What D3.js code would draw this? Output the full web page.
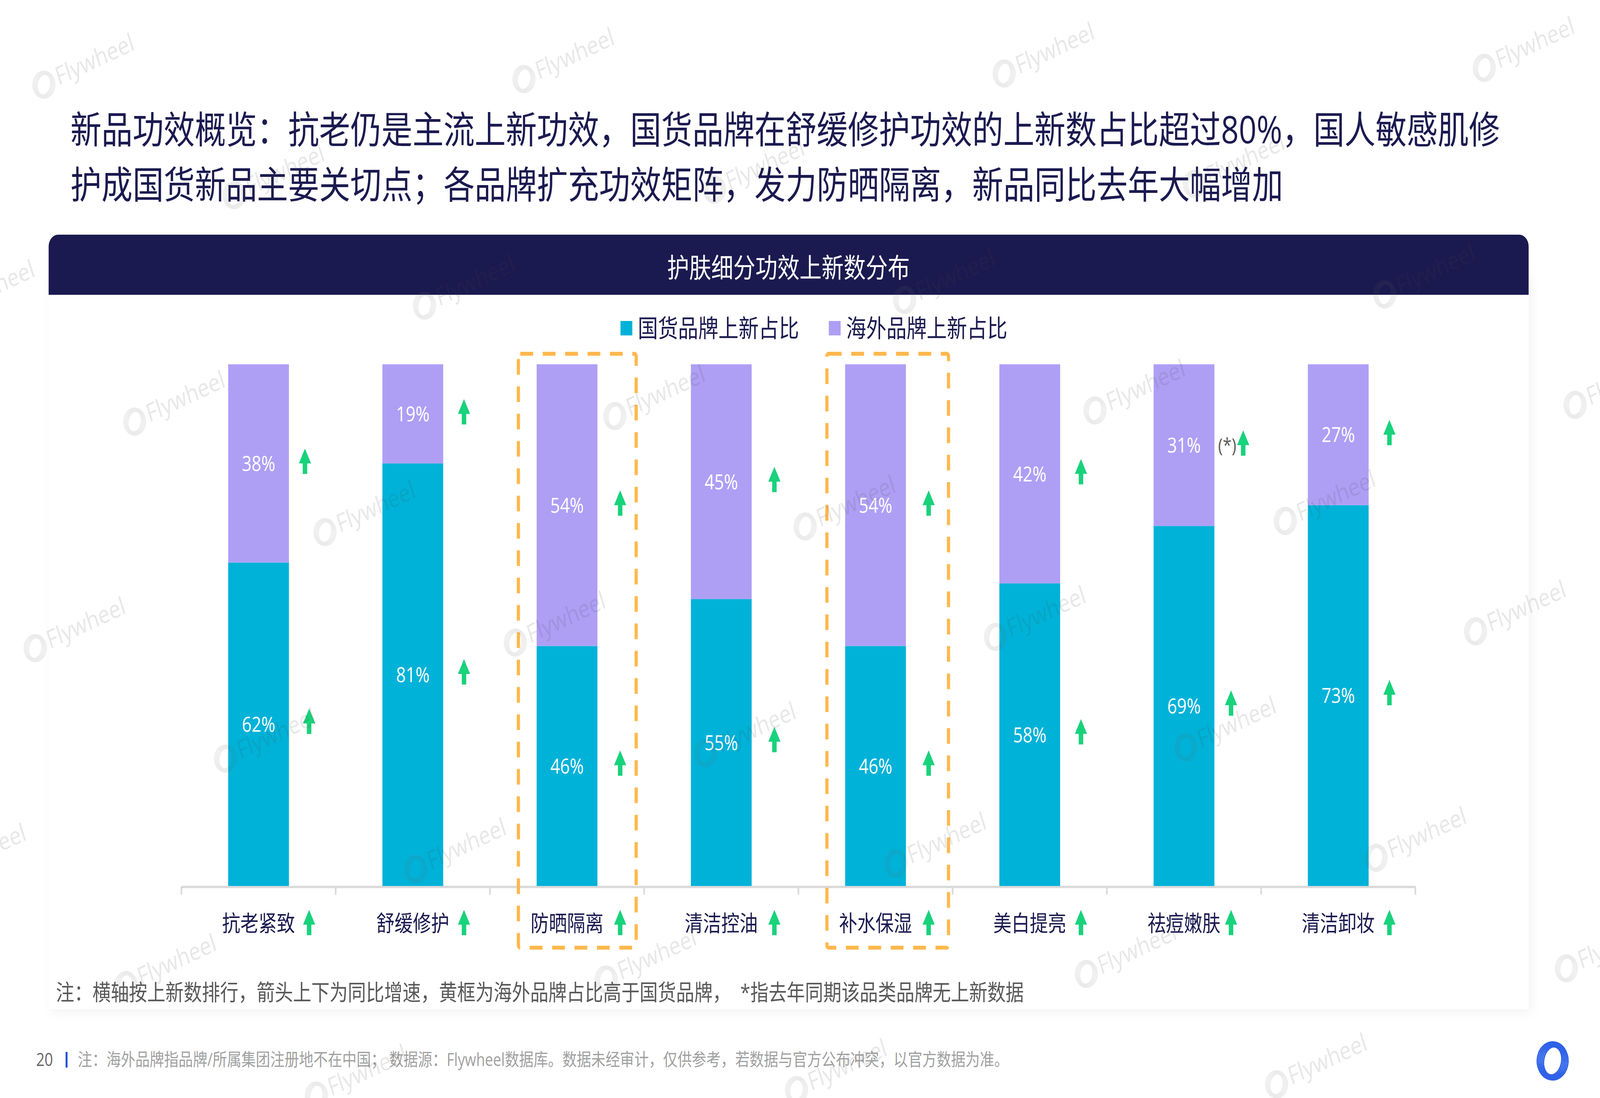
<!DOCTYPE html>
<html>
<head>
<meta charset="utf-8">
<script src="https://cdn.jsdelivr.net/npm/d3@7"></script>
<style>
  html, body { margin: 0; background: #fff; overflow: hidden; }
  text { font-family: "Open Sans", "Noto Sans CJK SC", sans-serif; }
</style>
</head>
<body>
<div id="chart"></div>
<script>
var categories = ['抗老紧致', '舒缓修护', '防晒隔离', '清洁控油', '补水保湿', '美白提亮', '祛痘嫩肤', '清洁卸妆'];
var domesticShare = [62, 81, 46, 55, 46, 58, 69, 73];
var overseasShare = [38, 19, 54, 45, 54, 42, 31, 27];
var highlighted = ['防晒隔离', '补水保湿'];
var noLastYear = ['祛痘嫩肤'];
var seriesNames = ['国货品牌上新占比', '海外品牌上新占比'];

var titleLines = [
  '新品功效概览：抗老仍是主流上新功效，国货品牌在舒缓修护功效的上新数占比超过80%，国人敏感肌修',
  '护成国货新品主要关切点；各品牌扩充功效矩阵，发力防晒隔离，新品同比去年大幅增加'
];
var panelTitle = '护肤细分功效上新数分布';
var noteText = '注：横轴按上新数排行，箭头上下为同比增速，黄框为海外品牌占比高于国货品牌，  *指去年同期该品类品牌无上新数据';
var footerText = '注：海外品牌指品牌/所属集团注册地不在中国； 数据源：Flywheel数据库。数据未经审计，仅供参考，若数据与官方公布冲突，以官方数据为准。';
var pageNumber = '20';

var navy = '#1b1a50', teal = '#00b2d8', purple = '#ae9ff5', green = '#19d27c', orange = '#ffb84d';

// the slide is laid out in 5000x2812 units and stretched to fill the window
var svg = d3.select('#chart').append('svg')
    .attr('viewBox', '0 0 5000 2812')
    .attr('preserveAspectRatio', 'none')
    .style('width', '100vw')
    .style('height', '100vh')
    .style('display', 'block');

var defs = svg.append('defs');
var shadow = defs.append('filter').attr('id', 'card-shadow')
    .attr('x', '-3%').attr('y', '-3%').attr('width', '106%').attr('height', '106%');
shadow.append('feDropShadow')
    .attr('dx', 8).attr('dy', 8).attr('stdDeviation', 14)
    .attr('flood-color', '#000').attr('flood-opacity', 0.05);

// title
svg.append('g').selectAll('text')
    .data(titleLines).enter()
  .append('text')
    .attr('x', 220)
    .attr('y', (d, i) => 367 + i * 141)
    .attr('font-size', 97.2)
    .attr('fill', navy)
    .text(String);

// card + header
svg.append('rect')
    .attr('x', 152).attr('y', 700).attr('width', 4625).attr('height', 1885)
    .attr('fill', '#fff')
    .attr('filter', 'url(#card-shadow)');

var headerPath = d3.path();
headerPath.moveTo(152, 755);
headerPath.lineTo(152, 631);
headerPath.arcTo(152, 601, 182, 601, 30);
headerPath.lineTo(4747, 601);
headerPath.arcTo(4777, 601, 4777, 631, 30);
headerPath.lineTo(4777, 755);
headerPath.closePath();
svg.append('path').attr('d', headerPath.toString()).attr('fill', navy);

svg.append('text')
    .attr('x', 2464).attr('y', 711)
    .attr('text-anchor', 'middle')
    .attr('font-size', 69)
    .attr('fill', '#fff')
    .text(panelTitle);

// scales
var x = d3.scaleBand()
    .domain(categories)
    .range([567, 4423])
    .paddingInner(0.606)
    .paddingOuter(0.303);
var y = d3.scaleLinear()
    .domain([0, 100])
    .range([2269, 933]);
var color = d3.scaleOrdinal().domain(seriesNames).range([teal, purple]);

var rows = categories.map((c, i) => ({
  category: c,
  [seriesNames[0]]: domesticShare[i],
  [seriesNames[1]]: overseasShare[i]
}));
var stacked = d3.stack().keys(seriesNames)(rows);

// axis
var axisG = svg.append('g')
    .attr('transform', 'translate(0,2271)')
    .call(d3.axisBottom(x).tickSize(0).tickPadding(80));
axisG.select('.domain').attr('stroke', '#d9d9d9').attr('stroke-width', 6);
axisG.selectAll('.tick text')
    .attr('font-size', 57)
    .attr('font-family', '"Noto Sans CJK SC"')
    .attr('fill', navy)
    .attr('dy', '0.6em');
var step = x.step();
axisG.selectAll('.sep')
    .data(d3.range(categories.length + 1)).enter()
  .append('line')
    .attr('class', 'sep')
    .attr('x1', d => x.range()[0] + d * step)
    .attr('x2', d => x.range()[0] + d * step)
    .attr('y1', 0).attr('y2', 20)
    .attr('stroke', '#d9d9d9').attr('stroke-width', 5);

// bars
var layers = svg.append('g').selectAll('g')
    .data(stacked).enter()
  .append('g')
    .attr('fill', d => color(d.key));

layers.selectAll('rect')
    .data(d => d).enter()
  .append('rect')
    .attr('x', d => x(d.data.category))
    .attr('width', x.bandwidth())
    .attr('y', d => y(d[1]))
    .attr('height', d => y(d[0]) - y(d[1]));

layers.selectAll('text')
    .data(d => d).enter()
  .append('text')
    .attr('x', d => x(d.data.category) + x.bandwidth() / 2)
    .attr('y', d => (y(d[0]) + y(d[1])) / 2)
    .attr('dy', '.36em')
    .attr('text-anchor', 'middle')
    .attr('font-size', 53)
    .attr('fill', '#fff')
    .text(d => (d[1] - d[0]) + '%');

// growth arrows, all pointing up in this picture
var arrowLine = d3.line();
var arrowShape = [[-19, 8], [0, -30], [19, 8], [7, 8], [7, 35], [-7, 35], [-7, 8]];
var arrowShift = [158, 160, 166, 166, 166, 160, 147, 160];

function drawArrow(cx, cy) {
  svg.append('path')
      .attr('d', arrowLine(arrowShape) + 'Z')
      .attr('transform', 'translate(' + cx + ',' + cy + ')')
      .attr('fill', green);
}

categories.forEach(function (c, i) {
  var mid = x(c) + x.bandwidth() / 2,
      lowY = (y(0) + y(domesticShare[i])) / 2,
      highY = (y(domesticShare[i]) + y(100)) / 2,
      highShift = arrowShift[i];
  if (i === 0) highShift = 145;
  if (noLastYear.indexOf(c) >= 0) highShift = 185;
  drawArrow(mid + arrowShift[i], lowY - 10);
  drawArrow(mid + highShift, highY - 8);
  drawArrow(mid + arrowShift[i], 2360);
  if (noLastYear.indexOf(c) >= 0) {
    svg.append('text')
        .attr('x', mid + 135)
        .attr('y', highY + 18)
        .attr('text-anchor', 'middle')
        .attr('font-size', 50)
        .attr('fill', '#595959')
        .text('(*)');
  }
});

// yellow boxes
svg.append('g').selectAll('rect')
    .data(highlighted).enter()
  .append('rect')
    .attr('x', d => x(d) - 57)
    .attr('y', 906)
    .attr('width', (d, i) => i ? 380 : 368)
    .attr('height', 1521)
    .attr('rx', 6)
    .attr('fill', 'none')
    .attr('stroke', orange)
    .attr('stroke-width', 10)
    .attr('stroke-dasharray', '40 30');

// legend
var legend = svg.append('g').selectAll('g')
    .data(seriesNames).enter()
  .append('g')
    .attr('transform', (d, i) => 'translate(' + (1939 + i * 651) + ',840)');
legend.append('rect')
    .attr('y', -18).attr('width', 37).attr('height', 37)
    .attr('fill', d => color(d));
legend.append('text')
    .attr('x', 54).attr('y', 23)
    .attr('font-size', 63)
    .attr('fill', navy)
    .text(String);

// notes
svg.append('text')
    .attr('x', 175).attr('y', 2562)
    .attr('font-size', 57)
    .attr('fill', '#595959')
    .attr('xml:space', 'preserve')
    .text(noteText);

svg.append('text')
    .attr('x', 113).attr('y', 2730)
    .attr('font-size', 46)
    .attr('fill', '#666')
    .text(pageNumber);
svg.append('line')
    .attr('x1', 208).attr('x2', 208).attr('y1', 2694).attr('y2', 2734)
    .attr('stroke', '#1f4fd8').attr('stroke-width', 6);
svg.append('text')
    .attr('x', 243).attr('y', 2730)
    .attr('font-size', 45)
    .attr('fill', '#a0a0a0')
    .text(footerText);

// ring logo, stripes of concentric ellipses
function ring(g, scale, stroke, sw) {
  [0, 1, 2, 3, 4].forEach(function (k) {
    g.append('ellipse')
        .attr('rx', (28 + k * 5) * scale)
        .attr('ry', (37 + k * 2.8) * scale)
        .attr('fill', 'none')
        .attr('stroke', stroke)
        .attr('stroke-width', sw)
        .attr('transform', 'rotate(15)');
  });
}
ring(svg.append('g').attr('transform', 'translate(4852,2717)'), 1, '#2f62e8', 4.5);

// watermark lattice, drawn over everything
var wm = svg.append('g').attr('class', 'watermark');
d3.range(-3, 14).forEach(function (r) {
  d3.range(-3, 6).forEach(function (c) {
    var px = (43 + c * 470.5 + r * 186.5) * 3.189,
        py = (68 - c * 4.5 + r * 88.7) * 3.189;
    if (px < -300 || px > 5000 || py < 40 || py > 2860) return;
    var g = wm.append('g')
        .attr('transform', 'translate(' + px + ',' + py + ')')
        .attr('opacity', 0.13);
    ring(g, 0.72, '#666', 2.6);
    g.append('text')
        .attr('x', 42).attr('y', 18)
        .attr('transform', 'rotate(-21)')
        .attr('font-size', 64)
        .attr('fill', '#444')
        .text('Flywheel');
  });
});
</script>
</body>
</html>
